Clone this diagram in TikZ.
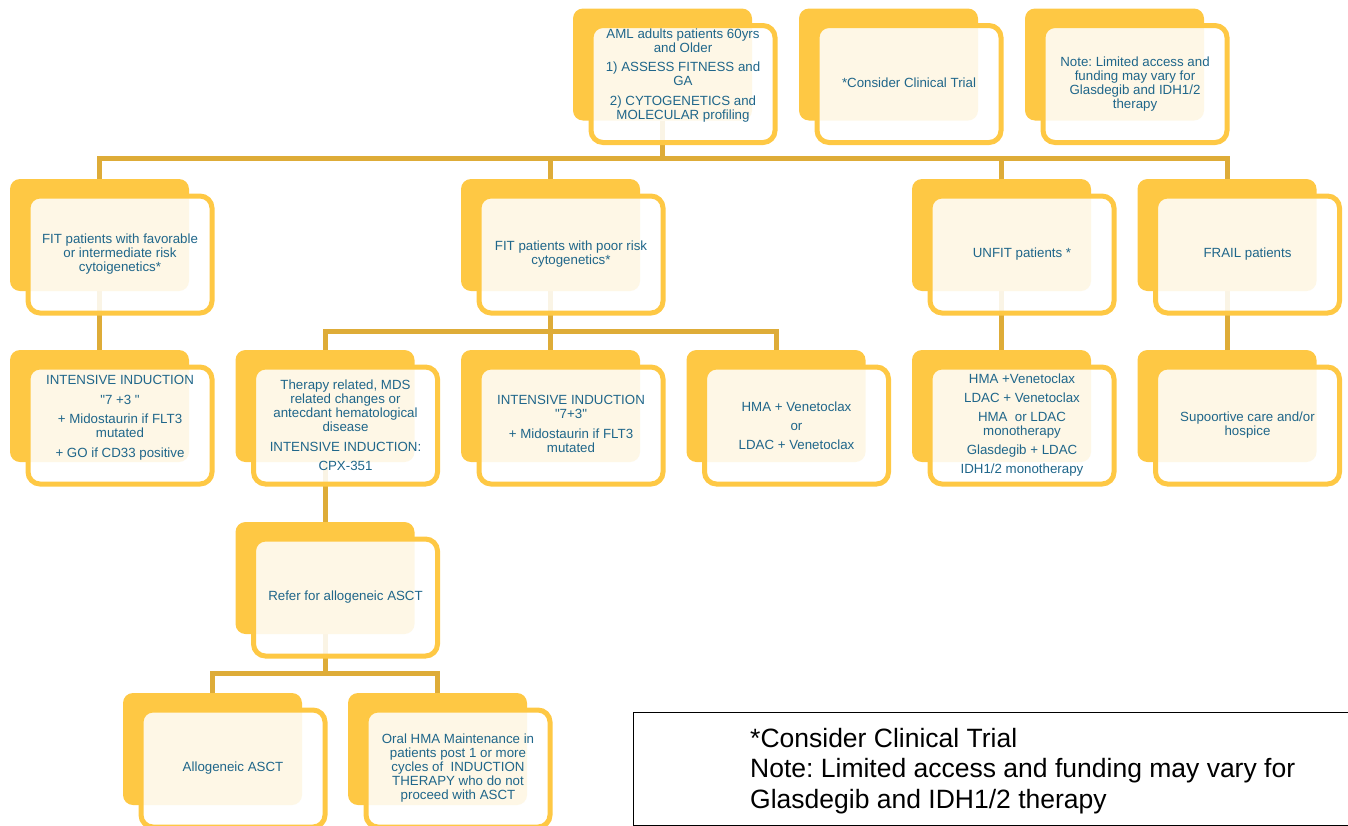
\documentclass[tikz,border=0pt]{standalone}
\usepackage{fontspec}
\setmainfont{Liberation Sans}[Ligatures=TeXOff]
\frenchspacing
\usetikzlibrary{backgrounds}
\definecolor{byel}{RGB}{254,200,68}
\definecolor{conn}{RGB}{222,172,56}
\definecolor{tblue}{RGB}{31,102,138}
\tikzset{
 backbox/.style={fill=byel, draw=none, rounded corners=10pt, minimum width=179pt, minimum height=112pt, inner sep=0pt, outer sep=0pt},
 frontbox/.style={fill=white, fill opacity=0.87, draw=byel, draw opacity=1, line width=5pt, rounded corners=12pt, minimum width=184pt, minimum height=117pt, inner sep=0pt, outer sep=0pt},
 txt/.style={text=tblue, align=center, font=\fontsize{13.3}{14}\selectfont, inner sep=0pt},
 conline/.style={draw=conn, line width=5pt},
 legendbox/.style={draw=black, line width=0.8pt, inner sep=0pt, anchor=north west},
 legendtxt/.style={anchor=north west, align=left, font=\fontsize{26.5}{30.5}\selectfont, inner sep=0pt, text=black},
}
% name, x0, y0 (back box top-left), text yshift, text
\newcommand\pbox[5]{%
 \node[backbox] (#1B) at ({#2+89.5},{-(#3)-56}) {};
 \node[frontbox] (#1) at ({#2+110},{-(#3)-75.5}) {};
 \node[txt] (#1T) at ([yshift=#4pt]#1.center) {#5};
}
\begin{document}
\begin{tikzpicture}[x=1pt,y=1pt]
\useasboundingbox (0,0) rectangle (1348,-825);
\pbox{aml}{573}{8.5}{8.5}{AML adults patients 60yrs\\and Older\\[5.5pt]1) ASSESS FITNESS and\\GA\\[5.5pt]2) CYTOGENETICS and\\MOLECULAR profiling}
\pbox{trial}{799}{8.5}{1}{*Consider Clinical Trial}
\pbox{note}{1025}{8.5}{0}{Note: Limited access and\\funding may vary for\\Glasdegib and IDH1/2\\therapy}
\pbox{fitf}{10}{179}{0}{FIT patients with favorable\\or intermediate risk\\cytoigenetics*}
\pbox{fitp}{461}{179}{0}{FIT patients with poor risk\\cytogenetics*}
\pbox{unfit}{912}{179}{0}{UNFIT patients *}
\pbox{frail}{1137.5}{179}{0}{FRAIL patients}
\pbox{ind1}{10}{350}{8}{INTENSIVE INDUCTION\\[5.5pt]"7 +3 "\\[5.5pt]+ Midostaurin if FLT3\\mutated\\[5.5pt]+ GO if CD33 positive}
\pbox{ther}{235.5}{350}{0}{Therapy related, MDS\\related changes or\\antecdant hematological\\disease\\[5.5pt]INTENSIVE INDUCTION:\\[5.5pt]CPX-351}
\pbox{ind2}{461}{350}{1.5}{INTENSIVE INDUCTION\\"7+3"\\[5.5pt]+ Midostaurin if FLT3\\mutated}
\pbox{hmav}{686.5}{350}{0}{HMA + Venetoclax\\[5pt]or\\[5pt]LDAC + Venetoclax}
\pbox{hmal}{912}{350}{0}{HMA +Venetoclax\\[5pt]LDAC + Venetoclax\\[5pt]HMA~ or LDAC\\monotherapy\\[5pt]Glasdegib + LDAC\\[5pt]IDH1/2 monotherapy}
\pbox{supp}{1137.5}{350}{0}{Supoortive care and/or\\hospice}
\pbox{refer}{235.5}{522}{0}{Refer for allogeneic ASCT}
\pbox{allo}{123}{693}{0}{Allogeneic ASCT}
\pbox{oral}{348}{693}{0}{Oral HMA Maintenance in\\patients post 1 or more\\cycles of~ INDUCTION\\THERAPY who do not\\proceed with ASCT}
\coordinate (bus1) at (0,-158);
\coordinate (bus2) at (0,-331);
\coordinate (bus3) at (0,-673);
\begin{pgfonlayer}{background}
\draw[conline] (amlB.south) -- (amlB.south |- bus1);
\draw[conline] (fitfB.north) -- (fitfB.north |- bus1) -- (frailB.north |- bus1) -- (frailB.north);
\draw[conline] (fitpB.north) -- (fitpB.north |- bus1);
\draw[conline] (unfitB.north) -- (unfitB.north |- bus1);
\draw[conline] (fitfB.south) -- (ind1B.north);
\draw[conline] (fitpB.south) -- (fitpB.south |- bus2);
\draw[conline] (therB.north) -- (therB.north |- bus2) -- (hmavB.north |- bus2) -- (hmavB.north);
\draw[conline] (ind2B.north) -- (ind2B.north |- bus2);
\draw[conline] (unfitB.south) -- (hmalB.north);
\draw[conline] (frailB.south) -- (suppB.north);
\draw[conline] (therB.south) -- (referB.north);
\draw[conline] (referB.south) -- (referB.south |- bus3);
\draw[conline] (alloB.north) -- (alloB.north |- bus3) -- (oralB.north |- bus3) -- (oralB.north);
\end{pgfonlayer}
\node[legendbox, minimum width=715pt, minimum height=113pt] (legend) at (632.5,-711.5) {};
\node[legendtxt] (legendT) at (750,-728) {*Consider Clinical Trial\\Note: Limited access and funding may vary for\\Glasdegib and IDH1/2 therapy};
\end{tikzpicture}
\end{document}
